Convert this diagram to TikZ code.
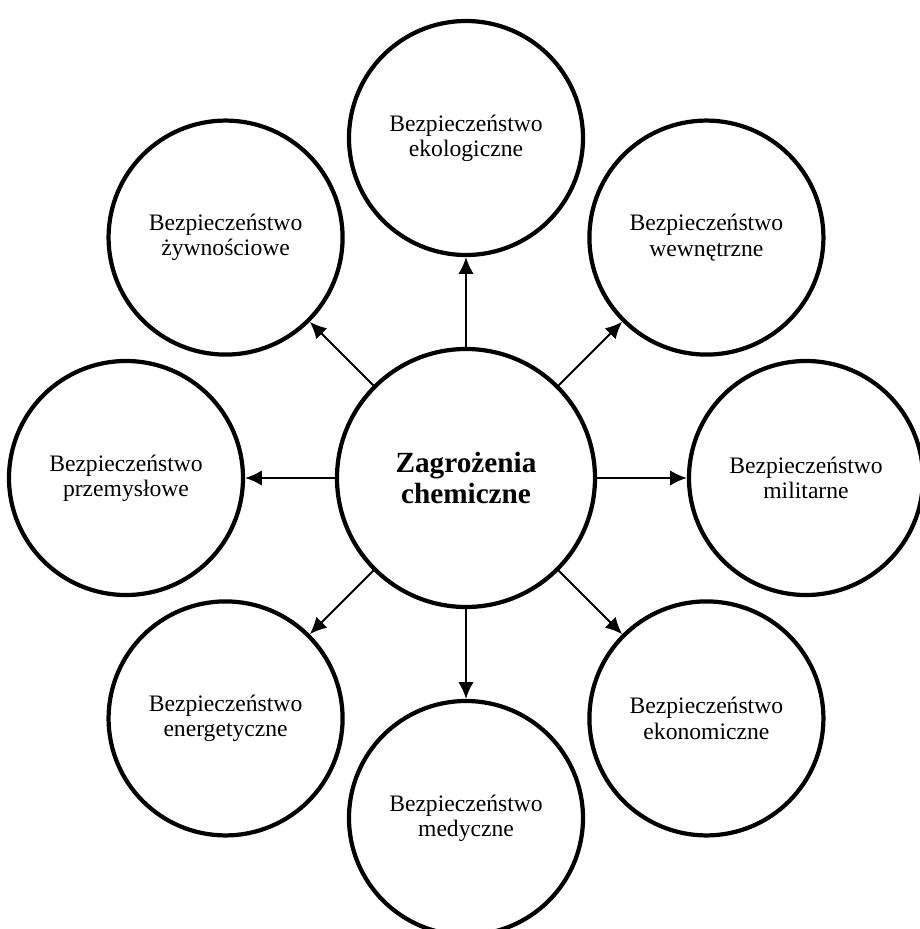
\documentclass[tikz,border=0pt]{standalone}
\usepackage{fontspec}
\setmainfont{Liberation Serif}
\usetikzlibrary{arrows.meta, math}

\tikzset{
  threat/.style={circle, draw, line width=3pt, minimum size=6.45cm, align=center,
    font=\fontsize{20.8}{22}\selectfont\bfseries},
  area/.style={circle, draw, line width=3pt, minimum size=5.85cm, align=center,
    font=\fontsize{16.8}{18}\selectfont},
  impact/.style={-{Latex[length=12pt,width=11pt]}, line width=1.5pt}
}

\begin{document}
\begin{tikzpicture}
\tikzmath{
\R=8.5;
}
\useasboundingbox (-11.65,-11.275) rectangle (11.35,11.95);

\node[threat] (zagrozenia) at (0,0) {Zagrożenia\\chemiczne};

% obszary bezpieczenstwa wokol
\foreach \ang/\nm/\txt in {90/ekologiczne/ekologiczne, 45/wewnetrzne/wewnętrzne,
  0/militarne/militarne, -45/ekonomiczne/ekonomiczne, -90/medyczne/medyczne,
  -135/energetyczne/energetyczne, 180/przemyslowe/przemysłowe, 135/zywnosciowe/żywnościowe}{
  \node[area] (\nm) at (\ang:\R) {Bezpieczeństwo\\\txt};
  \draw[impact] (zagrozenia) -- (\nm);
}
\end{tikzpicture}
\end{document}
